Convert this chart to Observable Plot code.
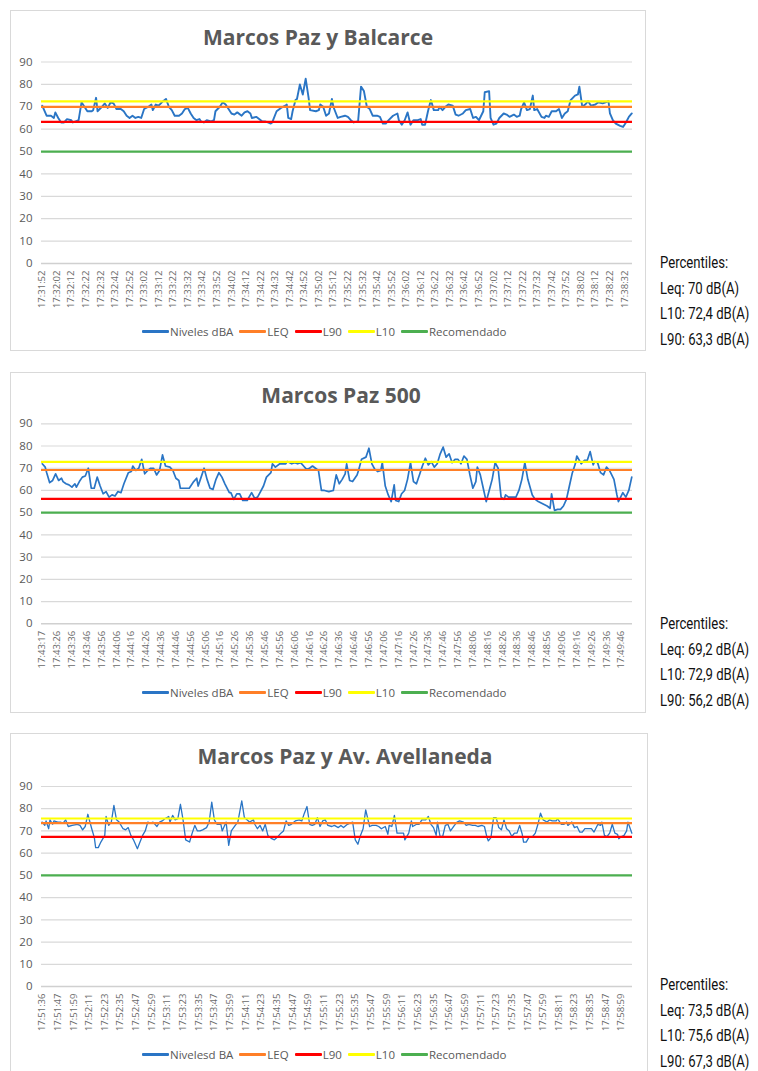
<!DOCTYPE html>
<html>
<head>
<meta charset="utf-8">
<script src="https://cdn.jsdelivr.net/npm/d3@7"></script>
<script src="https://cdn.jsdelivr.net/npm/@observablehq/plot@0.6"></script>
<style>
  html, body { margin: 0; padding: 0; background: #fff; }
  #root { position: relative; width: 758px; height: 1071px; overflow: hidden; font-family: "Open Sans", "Noto Sans", sans-serif; }
  .panel { position: absolute; border: 1px solid #d9d9d9; background: #fff; box-sizing: border-box; }
  .title { position: absolute; width: 636px; text-align: center; font-weight: bold; font-size: 21px; color: #595959; line-height: 24px; }
  .plot { position: absolute; left: 10px; }
  .legend { position: absolute; font-size: 11.5px; color: #595959; white-space: nowrap; display: flex; align-items: center; height: 14px; }
  .legend .sw { display: inline-block; width: 27px; height: 3px; border-radius: 1px; margin-right: 1px; }
  .legend .it { display: inline-flex; align-items: center; margin-right: 6px; }
  .perc { position: absolute; left: 660px; font-family: "Roboto", "Noto Sans", sans-serif; font-size: 16px; color: #111; line-height: 25.5px; white-space: nowrap; transform: scaleX(0.82); transform-origin: 0 0; }
</style>
</head>
<body>
<div id="root"></div>
<script>
// ---------- Data ----------
const seriesNames = ["Niveles dBA", "LEQ", "L90", "L10", "Recomendado"];
const seriesNames3 = ["Nivelesd BA", "LEQ", "L90", "L10", "Recomendado"];
const seriesColors = ["#2a75c5", "#ff7f27", "#ff0000", "#ffff00", "#4caf50"];
const recomendado = 50;
const yTicks = [0, 10, 20, 30, 40, 50, 60, 70, 80, 90];

// Panel 1: Marcos Paz y Balcarce
const p1Title = "Marcos Paz y Balcarce";
const p1Labels = ["17:31:52","17:32:02","17:32:12","17:32:22","17:32:32","17:32:42","17:32:52","17:33:02","17:33:12","17:33:22","17:33:32","17:33:42","17:33:52","17:34:02","17:34:12","17:34:22","17:34:32","17:34:42","17:34:52","17:35:02","17:35:12","17:35:22","17:35:32","17:35:42","17:35:52","17:36:02","17:36:12","17:36:22","17:36:32","17:36:42","17:36:52","17:37:02","17:37:12","17:37:22","17:37:32","17:37:42","17:37:52","17:38:02","17:38:12","17:38:22","17:38:32"];
const p1Count = 406;
const p1Idx = [0,3,6,8,9,11,13,15,17,20,21,23,25,27,29,31,34,35,37,38,41,43,45,47,49,51,54,56,58,60,62,64,66,68,70,73,75,76,78,80,83,85,87,89,91,94,96,98,100,102,104,106,108,109,111,113,116,118,119,122,124,126,128,130,132,134,137,139,141,143,144,147,149,151,153,155,157,158,161,164,167,168,169,171,172,174,175,177,179,181,183,184,188,190,191,193,195,197,199,200,203,205,208,210,212,214,217,219,221,223,225,227,230,232,234,236,238,241,244,245,247,249,251,253,255,258,260,261,263,265,267,269,272,273,275,277,279,282,284,286,289,291,294,296,298,300,303,304,307,308,310,312,314,317,319,321,324,326,328,329,331,333,335,337,338,340,343,345,346,348,350,353,355,357,359,361,363,366,368,369,371,373,375,377,380,382,385,387,389,390,392,394,397,399,401,403,405];
const p1Val = [70.5,66,66,65,67.5,65,63,63,64.5,64,63,63.5,64,72,70,68,68,68.5,74,68,70,71.5,69.5,72,71.5,69,69,68,66,65,66,65,65.5,65,69,70,71,68.5,71,70.5,72.5,73.5,70,68.5,66,66,67,69,69.5,67,65,64,64.5,63.5,63,64,63.5,64,68,70,72,71,69,67,66.5,67.5,66,67.5,68,67,65,65.5,64.5,63.5,63.5,63,62.5,63,68,69.5,70.5,71,65,64.5,68,73,73.5,80,75.5,82.5,74,68.5,68,68.5,71,70,66,67,73.5,70,65,65.5,66,65.5,64,63,63.5,79,77,70,69,66,66,65.5,62.5,62.5,64,66,67,64,62,64,67.5,62,64,64,64.5,62,62,68,73,68.5,68.5,70,68.5,70,71,70.5,66.5,66,67,68.5,69,65,65.5,64,68,76.5,77,65,62,62.5,65,67,66.5,65.5,66.5,65.5,66,69,72,68.5,69,75,68.5,69,65.5,65,66,65.5,68,68,69,65,67,68,73,75,75.5,79,70,71,72.5,70.5,71,72,71.5,72,72.5,67,64,62.5,61.5,61,63,65.5,67];
const p1Leq = 70, p1L10 = 72.4, p1L90 = 63.3;
const p1Perc = ["Percentiles:", "Leq: 70 dB(A)", "L10: 72,4 dB(A)", "L90: 63,3 dB(A)"];

// Panel 2: Marcos Paz 500
const p2Title = "Marcos Paz 500";
const p2Labels = ["17:43:17","17:43:26","17:43:36","17:43:46","17:43:56","17:44:06","17:44:16","17:44:26","17:44:36","17:44:46","17:44:56","17:45:06","17:45:16","17:45:26","17:45:36","17:45:46","17:45:56","17:46:06","17:46:16","17:46:26","17:46:36","17:46:46","17:46:56","17:47:06","17:47:16","17:47:26","17:47:36","17:47:46","17:47:56","17:48:06","17:48:16","17:48:26","17:48:36","17:48:46","17:48:56","17:49:06","17:49:16","17:49:26","17:49:36","17:49:46"];
const p2Count = 398;
const p2Idx = [0,2,3,5,7,9,11,13,14,16,18,20,22,23,25,27,29,31,33,35,37,39,41,43,45,47,49,51,53,55,58,60,61,63,65,67,69,71,73,75,77,79,81,83,86,88,90,92,93,97,99,102,104,105,107,109,111,113,115,117,119,121,123,126,127,129,131,133,135,138,141,143,145,147,149,151,154,155,157,160,162,164,165,168,170,172,174,176,178,180,182,184,186,188,190,193,196,198,200,202,204,205,207,209,212,213,215,218,220,222,224,226,228,229,231,233,235,237,238,240,242,244,246,248,250,252,254,256,258,260,262,264,266,268,270,272,274,276,278,280,282,284,286,288,290,292,293,295,297,299,301,303,305,307,309,311,312,314,316,319,321,323,325,327,330,332,334,337,340,342,343,345,347,349,351,353,355,357,359,360,363,365,367,369,371,372,374,376,378,380,382,385,387,388,391,393,395,397];
const p2Val = [72,70.5,68,63.5,64.5,67.5,64.5,65.5,64,63,62.5,61.5,63,61.5,64,66,66.5,70,61,61,66,62,58.5,59.5,57,58,57.5,59.5,59,63,68,68.5,71,69,70,74,67.5,69,70,70,67,69,76,71,70.5,69,65.5,64.5,61,61,61,64,65.5,62,66,70,65,61,60.5,65,68,66,63,59,59,56,58.5,58.5,55.5,55.5,59,56.5,57,59.5,62,66,68,72,70.5,72,72,72,73,72,72.5,72,72.5,71,69.5,70,71,70,69,60,60,59.5,60,67,63,65,67.5,72,64.5,64,67,69,74,75,79,72,69.5,68.5,69,72.5,62,58,55,62.5,55.5,55,58.5,60,65,72.5,64,63,67,71,74.5,71.5,73,70.5,72,76.5,79.5,75,76.5,72.5,74,74,72,75.5,74,67,61,64,70.5,67,61,55,60,65,72.5,70,57,56,58,57,57,57,60,65,72.5,65,58,56,55,54,53,52,58.5,51,51.5,51.5,53,56,62,68,72,75.5,72,73.5,73.5,77.5,71.5,73,72.5,68,67,70.5,69,65,58,55,59,57,60,66];
const p2Leq = 69.2, p2L10 = 72.9, p2L90 = 56.2;
const p2Perc = ["Percentiles:", "Leq: 69,2 dB(A)", "L10: 72,9 dB(A)", "L90: 56,2 dB(A)"];

// Panel 3: Marcos Paz y Av. Avellaneda
const p3Title = "Marcos Paz y Av. Avellaneda";
const p3Labels = ["17:51:36","17:51:47","17:51:59","17:52:11","17:52:23","17:52:35","17:52:47","17:52:59","17:53:11","17:53:23","17:53:35","17:53:47","17:53:59","17:54:11","17:54:23","17:54:35","17:54:47","17:54:59","17:55:11","17:55:23","17:55:35","17:55:47","17:55:59","17:56:11","17:56:23","17:56:35","17:56:47","17:56:59","17:57:11","17:57:23","17:57:35","17:57:47","17:57:59","17:58:11","17:58:23","17:58:35","17:58:47","17:58:59"];
const p3Count = 453;
const p3Idx = [0,2,3,5,6,8,9,12,14,16,18,20,23,27,29,31,33,35,38,40,41,43,45,48,49,51,53,55,57,59,62,64,66,68,70,73,75,77,79,81,83,85,88,90,92,94,97,98,100,102,104,106,108,110,113,115,117,119,121,123,126,128,130,132,134,137,138,141,143,145,148,150,153,155,157,159,162,163,165,167,169,171,173,176,178,180,183,185,187,189,191,194,197,199,201,203,205,207,209,211,213,215,217,219,222,224,227,229,231,234,236,238,240,242,244,246,248,251,253,256,258,260,263,265,266,268,270,272,274,277,278,281,283,284,287,289,291,294,296,298,300,302,303,305,307,309,311,313,316,318,320,323,325,327,330,332,334,337,339,341,342,344,346,348,350,352,354,356,358,360,362,364,366,368,369,371,373,376,378,380,382,384,387,389,391,394,395,398,400,402,403,406,408,410,412,414,416,419,421,423,426,428,429,431,433,435,437,439,441,442,444,446,448,449,452];
const p3Val = [74,72.5,74.5,71,75,73,74.5,74,74,73.5,75,72,72.5,73,72.5,70.5,72,77.5,71,67,62.5,62.5,65,68,76.5,72.5,74,81.5,75,74,71,70.5,71.5,68,66,62,65,68,70,74,73.5,74,72,74,74.5,75.5,76.5,74,77,75,75.5,82,75,66,65,69,72.5,70,70,70.5,71.5,74,83,75,73,73,70,74,63.5,70,72.5,74,83.5,76,75,74,75,73,71,72.5,70,73,68,66.5,66,67,69,70,74.5,72.5,73,74.5,75,74.5,78,81,73,72.5,73,76,72,74.5,75,72.5,72,72.5,71.5,72.5,71.5,73,73.5,74,66,64,68,71,79.5,72,72.5,72.5,72,71,72,68.5,72.5,72,77,69,69,69,66,69,74.5,72,73,73,75,75,76.5,73,71.5,68,74,67.5,67.5,72.5,73,70,72.5,74,74.5,74,72.5,73,72.5,72.5,72,72.5,72,67,65.5,67,76,76,71.5,70.5,75,71,70,67.5,69,69,72.5,68.5,65,65,67,67.5,69,73,78,75,74,75,74.5,74.5,75.5,73,73,74,72.5,74,71.5,72,69.5,69.5,71,71,71,69.5,73,72.5,74,68,67.5,69,73,69,68.5,66.5,67.5,68,70,74,69];
const p3Leq = 73.5, p3L10 = 75.6, p3L90 = 67.3;
const p3Perc = ["Percentiles:", "Leq: 73,5 dB(A)", "L10: 75,6 dB(A)", "L90: 67,3 dB(A)"];

// ---------- Layout config ----------
const panels = [
  {title: p1Title, labels: p1Labels, step: 10, count: p1Count, idx: p1Idx, val: p1Val, leq: p1Leq, l10: p1L10, l90: p1L90, perc: p1Perc, names: seriesNames,
   box: [10, 10, 636, 341], titleX: 0, titleY: 25, y90: 61.5, y0: 263, legendY: 324, legendX: 142, percY: 250, lw: 1.9},
  {title: p2Title, labels: p2Labels, step: 10, count: p2Count, idx: p2Idx, val: p2Val, leq: p2Leq, l10: p2L10, l90: p2L90, perc: p2Perc, names: seriesNames,
   box: [10, 372, 636, 341], titleX: 23, titleY: 383, y90: 423.3, y0: 623.3, legendY: 685, legendX: 142, percY: 611, lw: 1.7},
  {title: p3Title, labels: p3Labels, step: 12, count: p3Count, idx: p3Idx, val: p3Val, leq: p3Leq, l10: p3L10, l90: p3L90, perc: p3Perc, names: seriesNames3,
   box: [10, 733, 638, 360], titleX: 27, titleY: 744, y90: 786, y0: 986, legendY: 1047, legendX: 142, percY: 972, lw: 1.3}
];

const root = document.getElementById("root");

for (const p of panels) {
  const [bx, by, bw, bh] = p.box;
  const box = document.createElement("div");
  box.className = "panel";
  Object.assign(box.style, {left: bx + "px", top: by + "px", width: bw + "px", height: bh + "px"});
  root.appendChild(box);

  const data = p.idx.map((i, k) => ({i, v: p.val[k]}));
  const svgTop = by;
  const svgH = 320;
  const mTop = p.y90 - svgTop;
  const mBottom = svgTop + svgH - p.y0;
  const tickVals = p.labels.map((_, k) => k * p.step);

  const chart = Plot.plot({
    width: 636,
    height: svgH,
    marginLeft: 31,
    marginRight: 14,
    marginTop: mTop,
    marginBottom: mBottom,
    style: {fontFamily: "Open Sans, Noto Sans, sans-serif", background: "transparent", color: "#595959"},
    x: {type: "linear", domain: [-0.5, p.count - 0.5]},
    y: {domain: [0, 90]},
    marks: [
      Plot.gridY(yTicks.filter(d => d > 0), {stroke: "#d9d9d9", strokeOpacity: 1, strokeWidth: 1.2}),
      Plot.ruleY([0], {stroke: "#d0d0d0", strokeWidth: 1.5}),
      Plot.axisY(yTicks, {tickSize: 0, tickPadding: 9, fontSize: 11.5, fill: "#595959", label: null}),
      Plot.axisX(tickVals, {tickSize: 0, tickPadding: 7, tickRotate: -90, fontSize: 9.5, fill: "#6a6a6a", label: null,
        tickFormat: d => p.labels[Math.round(d / p.step)]}),
      Plot.line(data, {x: "i", y: "v", stroke: seriesColors[0], strokeWidth: p.lw, curve: "linear"}),
      Plot.ruleY([p.leq], {stroke: seriesColors[1], strokeWidth: 2.2}),
      Plot.ruleY([p.l90], {stroke: seriesColors[2], strokeWidth: 2.2}),
      Plot.ruleY([p.l10], {stroke: seriesColors[3], strokeWidth: 2.2}),
      Plot.ruleY([recomendado], {stroke: seriesColors[4], strokeWidth: 2.2})
    ]
  });
  chart.classList.add("plot");
  chart.style.position = "absolute";
  chart.style.left = "10px";
  chart.style.top = svgTop + "px";
  root.appendChild(chart);

  const t = document.createElement("div");
  t.className = "title";
  t.style.left = (p.titleX) + "px";
  t.style.top = p.titleY + "px";
  t.textContent = p.title;
  root.appendChild(t);

  const lg = document.createElement("div");
  lg.className = "legend";
  lg.style.left = p.legendX + "px";
  lg.style.top = p.legendY + "px";
  p.names.forEach((n, k) => {
    const it = document.createElement("span");
    it.className = "it";
    const sw = document.createElement("span");
    sw.className = "sw";
    sw.style.background = seriesColors[k];
    const tx = document.createElement("span");
    tx.textContent = n;
    it.appendChild(sw); it.appendChild(tx);
    lg.appendChild(it);
  });
  root.appendChild(lg);

  const pc = document.createElement("div");
  pc.className = "perc";
  pc.style.top = p.percY + "px";
  pc.innerHTML = p.perc.map(s => `<div>${s}</div>`).join("");
  root.appendChild(pc);
}
</script>
</body>
</html>
